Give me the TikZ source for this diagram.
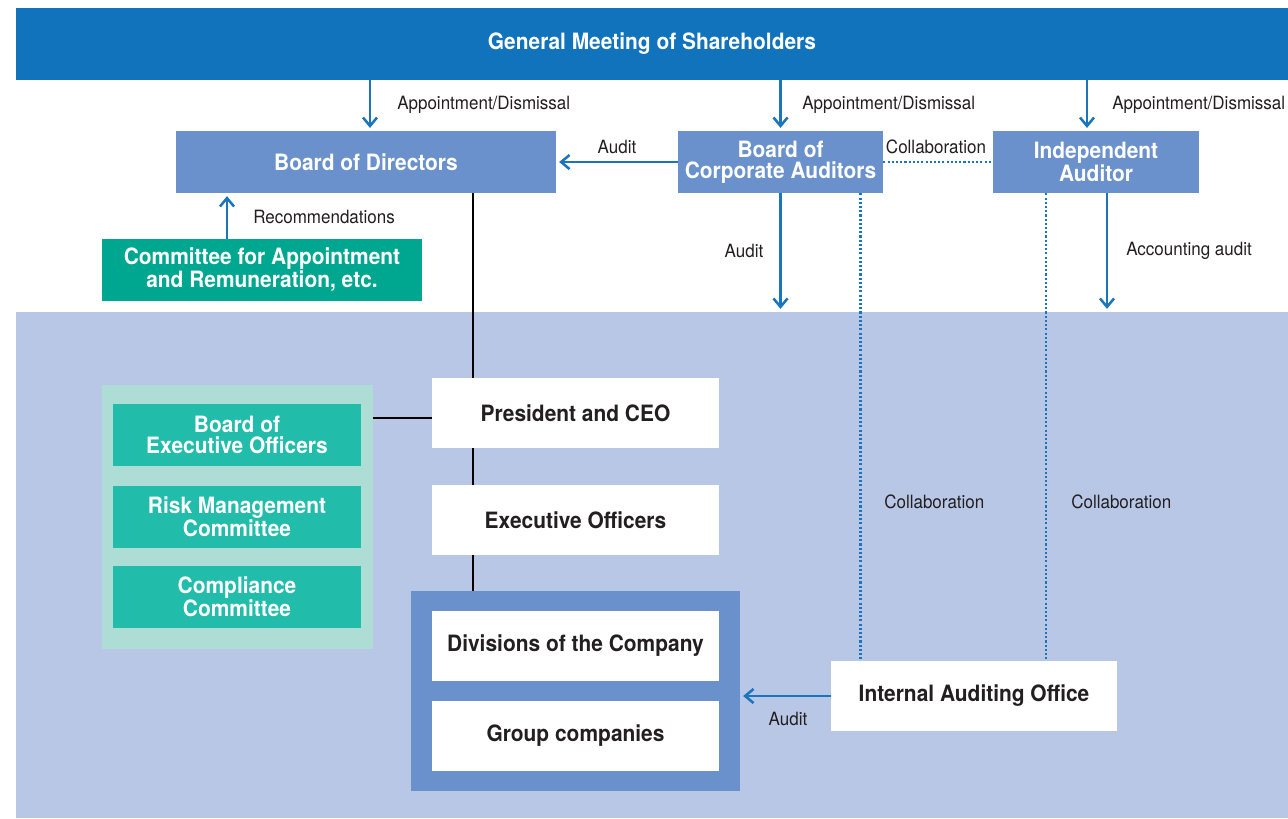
\documentclass[tikz,border=0pt]{standalone}
\usepackage{fontspec}
\setmainfont{TeX Gyre Heros}[FakeStretch=0.93]
\usetikzlibrary{arrows.meta}
\definecolor{gmsblue}{HTML}{1173BB}
\definecolor{midblue}{HTML}{6A91CB}
\definecolor{bgblue}{HTML}{B8C7E6}
\definecolor{tealdark}{HTML}{00A790}
\definecolor{tealmid}{HTML}{22BCAB}
\definecolor{tealpale}{HTML}{AEDDD6}
\definecolor{arrblue}{HTML}{1B75BC}
\definecolor{textdark}{HTML}{231F20}
\tikzset{
  box/.style={fill=midblue, text=white, font=\fontsize{16}{15}\selectfont\bfseries, align=center, inner sep=0pt, minimum height=1.55cm},
  wbox/.style={box, fill=white, text=textdark, minimum width=7.175cm, minimum height=1.75cm},
  tbox/.style={box, fill=tealmid, minimum width=6.2cm},
  lbl/.style={text=textdark, font=\fontsize{13}{14}\selectfont, inner sep=0pt},
  arr/.style={draw=arrblue, line width=1.8pt, -{Straight Barb[length=6pt,width=10pt]}, shorten >=2pt},
  collab/.style={draw=arrblue, line width=1.5pt, dash pattern=on 1.5pt off 1.5pt},
  spine/.style={draw=black, line width=1.3pt}
}
\begin{document}
\begin{tikzpicture}[x=0.025cm,y=-0.025cm]
\fill[white] (0,0) rectangle (1288,818);
\useasboundingbox (0,0) rectangle (1288,818);
\node[fill=bgblue, minimum width=31.8cm, minimum height=12.65cm, inner sep=0pt] (bg) at (652,565) {};
\node[box, fill=gmsblue, minimum width=31.8cm, minimum height=1.8cm] (gms) at (652,44) {General Meeting of Shareholders};
\node[box, minimum width=9.5cm] (bod) at (366,162) {Board of Directors};
\node[box, minimum width=5.125cm] (bca) at (780.5,162) {Board of\\Corporate Auditors};
\node[box, minimum width=5.15cm] (ia) at (1096,162) {Independent\\Auditor};
\node[box, fill=tealdark, minimum width=8cm] (car) at (262,270) {Committee for Appointment\\and Remuneration, etc.};
\node[fill=tealpale, minimum width=6.775cm, minimum height=6.6cm, inner sep=0pt] (panel) at (237.5,517) {};
\node[tbox] (beo) at (237,435) {Board of\\Executive Officers};
\node[tbox] (rmc) at (237,517) {Risk Management\\Committee};
\node[tbox] (cc) at (237,597) {Compliance\\Committee};
\node[fill=midblue, minimum width=8.225cm, minimum height=5cm, inner sep=0pt] (grp) at (575.5,691) {};
\node[wbox] (pres) at (575.5,413) {President and CEO};
\node[wbox] (exo) at (575.5,520) {Executive Officers};
\node[wbox] (div) at (575.5,646) {Divisions of the Company};
\node[wbox] (gc) at (575.5,736) {Group companies};
\node[wbox, minimum width=7.15cm] (iao) at (974,696) {Internal Auditing Office};
\coordinate (spine) at (473,0);

\draw[arr] (gms.south -| bod.north) ++(0.1cm,0) coordinate (a1) -- (a1 |- bod.north);
\draw[arr] (gms.south -| bca.north) -- (bca.north);
\draw[arr] ([xshift=-0.225cm]gms.south -| ia.north) -- ([xshift=-0.225cm]ia.north);
\draw[arr] (bca.west) -- (bod.east);
\draw[collab] (bca.east) -- (ia.west);
\draw[arr] ([xshift=-0.875cm]car.north) -- ([xshift=-0.875cm]car.north |- bod.south);
\draw[arr] (bca.south) -- (bca.south |- bg.north);
\draw[arr] ([xshift=0.275cm]ia.south) -- ([xshift=0.275cm]ia.south |- bg.north);
\draw[collab] ([xshift=2cm]bca.south) -- ([xshift=2cm]bca.south |- iao.north);
\draw[collab] ([xshift=-1.25cm]ia.south) -- ([xshift=-1.25cm]ia.south |- iao.north);
\draw[arr] (iao.west) -- (iao.west -| grp.east);
\draw[spine] (bod.south -| spine) -- (pres.north -| spine);
\draw[spine] (pres.south -| spine) -- (exo.north -| spine);
\draw[spine] (exo.south -| spine) -- (grp.north -| spine);
\draw[spine] ([yshift=-0.125cm]pres.west) -- ([yshift=-0.125cm]pres.west -| panel.east);

\node[lbl, anchor=west] (lad1) at (397,105) {Appointment/Dismissal};
\node[lbl, anchor=west] (lad2) at (802,105) {Appointment/Dismissal};
\node[lbl, anchor=west] (lad3) at (1112,105) {Appointment/Dismissal};
\node[lbl] (lau1) at (617,147) {Audit};
\node[lbl] (lcol1) at (936,147) {Collaboration};
\node[lbl, anchor=west] (lrec) at (253,217) {Recommendations};
\node[lbl] (lau2) at (744,251) {Audit};
\node[lbl, anchor=west] (lacc) at (1126,251) {Accounting audit};
\node[lbl, anchor=west] (lcol2) at (884,502) {Collaboration};
\node[lbl, anchor=west] (lcol3) at (1071,502) {Collaboration};
\node[lbl] (lau3) at (788,719) {Audit};
\end{tikzpicture}
\end{document}
